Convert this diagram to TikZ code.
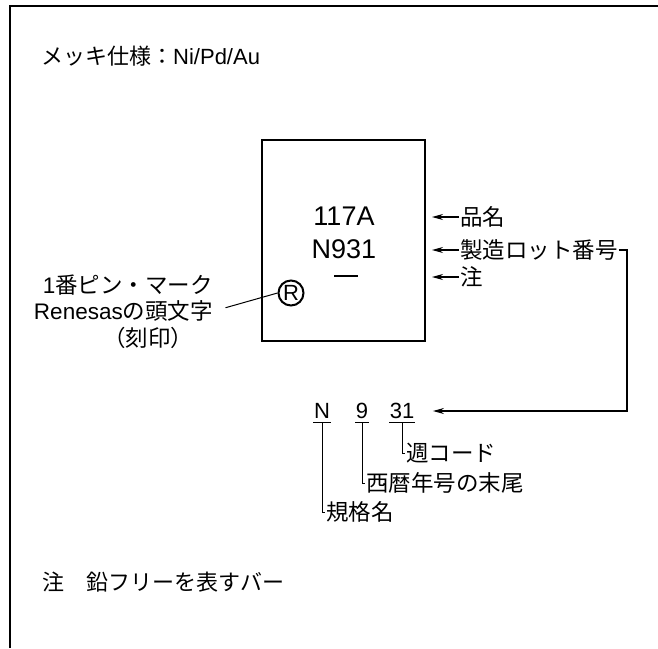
\documentclass[tikz,border=0pt]{standalone}
\usepackage{fontspec}
\setmainfont{Liberation Sans}
\newfontfamily\jpfont{Noto Sans CJK JP}
\usetikzlibrary{arrows.meta}
\tikzstyle{lbl} = [inner sep=1pt, anchor=west, font=\fontsize{22.5}{26}\selectfont\jpfont]
\tikzstyle{chiptxt} = [inner sep=0pt, font=\fontsize{27}{30}\selectfont]
\tikzstyle{code} = [inner xsep=0.5pt, inner ysep=4pt, font=\fontsize{22}{26}\selectfont]
\tikzstyle{arr} = [-{Stealth[length=11pt,width=6pt]}, line width=1.2pt]

\begin{document}
\begin{tikzpicture}[x=1pt,y=-1pt]
		\useasboundingbox (0,0) rectangle (658,648);
		% frame
		\draw[line width=1.2pt] (10,648) -- (10,6) -- (658,6);
		\node [lbl,font=\fontsize{22}{26}\selectfont](title) at (40,56){{\jpfont メッキ仕様：}Ni/Pd/Au};
		
		% package
		\node [draw,line width=2pt,minimum width=163pt,minimum height=201pt](chip) at (343.5,240.5){};
		\node [chiptxt](pn) at (344,216){117A};
		\node [chiptxt](lot) at (344,249){N931};
		\draw [line width=2pt](334,276) -- (358,276);
		\node [circle,draw,line width=2pt,inner sep=0pt,minimum size=25pt,font=\fontsize{22}{22}\selectfont](rmark) at (291,293){R};
		
		\node [lbl](pnlbl) at (459,217){品名};
		\node [lbl](lotlbl) at (459,250){製造ロット番号};
		\node [lbl](notelbl) at (459,277){注};
		\draw [arr,shorten >=6pt](pnlbl.west) -- (pnlbl.west -| chip.east);
		\draw [arr,shorten >=6pt](lotlbl.west) -- (lotlbl.west -| chip.east);
		\draw [arr,shorten >=6pt](notelbl.west) -- (notelbl.west -| chip.east);
		
		% pin 1 mark
		\node [lbl,anchor=east](pin1) at (214,285){{\rmfamily 1}番ピン・マーク};
		\node [lbl,anchor=east](pin2) at (214,311){{\rmfamily Renesas}の頭文字};
		\node [lbl,anchor=center](pin3) at (148,338){（刻印）};
		\draw [line width=1pt,shorten <=12pt](pin2.east) -- (rmark.west);
		
		% lot number
		\node [code](cN) at (322,411){N};
		\node [code](c9) at (362,411){9};
		\node [code](c31) at (402,411){31};
		\foreach \c in {cN,c9,c31}
			\draw [line width=1pt](\c.south west) -- (\c.south east);
		\draw [arr,shorten >=18pt](lotlbl.east) -- ++(8,0) |- (c31.east);
		
		\node [lbl](wk) at (405,453){週コード};
		\node [lbl](yr) at (365,483){西暦年号の末尾};
		\node [lbl](std) at (325,512){規格名};
		\draw [line width=1pt](c31.south) |- (wk.west);
		\draw [line width=1pt](c9.south) |- (yr.west);
		\draw [line width=1pt](cN.south) |- (std.west);
		
		% note
		\node [lbl,font=\fontsize{22}{26}\selectfont\jpfont](note) at (41,582){注　鉛フリーを表すバー};
		
\end{tikzpicture}
\end{document}
